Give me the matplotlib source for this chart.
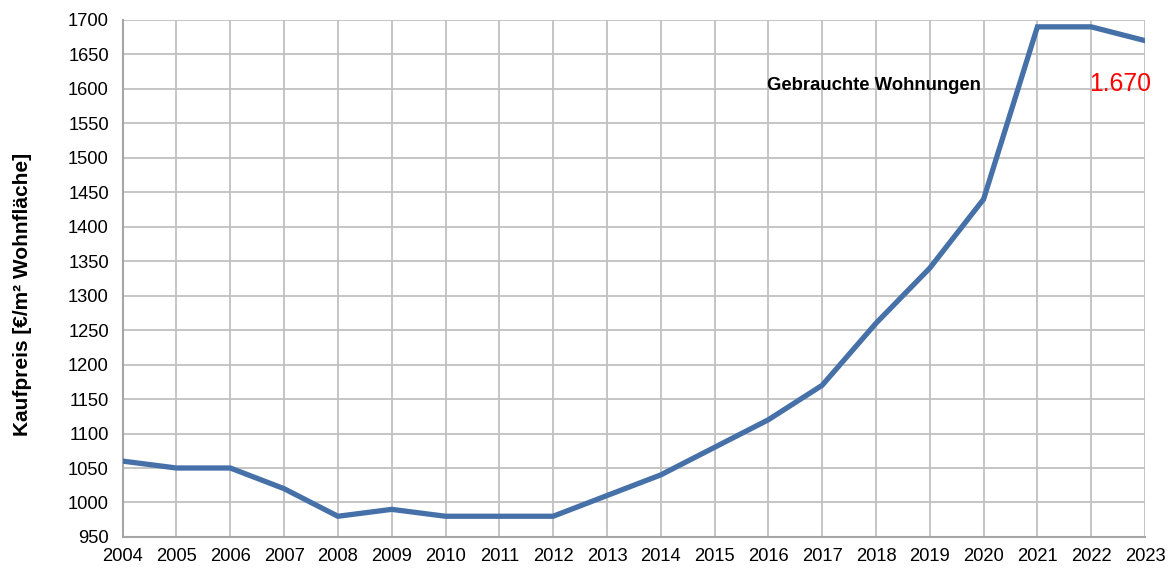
import matplotlib.pyplot as plt

plt.rcParams['font.family'] = ['Liberation Sans', 'DejaVu Sans']

years = list(range(2004, 2024))
prices = [1060, 1050, 1050, 1020, 980, 990, 980, 980, 980, 1010,
          1040, 1080, 1120, 1170, 1260, 1340, 1440, 1690, 1690, 1670]
y_ticks = list(range(950, 1701, 50))
series_name = 'Gebrauchte Wohnungen'
last_label = '1.670'


def main():
    fig = plt.figure(figsize=(11.74, 5.70), dpi=100)
    ax = fig.add_axes([0.1045, 0.058, 0.8708, 0.907])

    ax.plot(years, prices, color='#4670A8', linewidth=3.8, solid_joinstyle='miter', zorder=3)

    ax.set_xlim(years[0], years[-1])
    ax.set_ylim(y_ticks[0], y_ticks[-1])
    ax.set_xticks(years)
    ax.set_yticks(y_ticks)
    ax.tick_params(axis='both', length=0, labelsize=13.2)
    ax.tick_params(axis='y', pad=10)
    ax.tick_params(axis='x', pad=8)

    ax.grid(True, color='#c0c0c0', linewidth=1.3)
    ax.set_axisbelow(True)
    for side in ['top', 'right']:
        ax.spines[side].set_visible(False)
    for side in ['left', 'bottom']:
        ax.spines[side].set_color('#a6a6a6')
        ax.spines[side].set_linewidth(1.5)

    # Achsentitel etwas tiefer, wie im Original
    ax.set_ylabel('Kaufpreis [€/m² Wohnfläche]', fontsize=15, fontweight='bold')
    ax.yaxis.set_label_coords(-0.0885, 0.47)

    ax.text(0.630, 0.874, series_name, transform=ax.transAxes, fontsize=13.3,
            fontweight='bold', ha='left', va='center')
    ax.text(1.006, 0.876, last_label, transform=ax.transAxes, fontsize=17.8,
            color='red', ha='right', va='center')

    plt.savefig('out.png', dpi=100)


if __name__ == '__main__':
    main()
